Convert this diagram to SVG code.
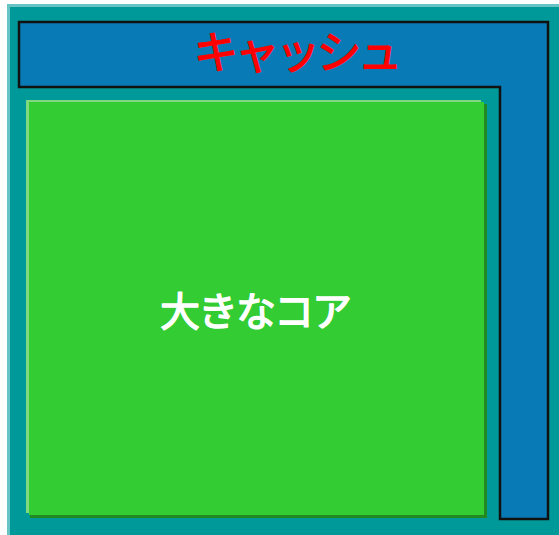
<svg xmlns="http://www.w3.org/2000/svg" width="559" height="535" viewBox="0 0 559 535">
<style>
.cjk{font-family:"Noto Sans CJK JP","Noto Sans CJK SC",sans-serif;text-anchor:middle;font-weight:normal;stroke-linejoin:round;}
</style>
<rect x="0" y="0" width="559" height="535" fill="#ffffff"/>
<g id="background">
<rect x="7" y="4" width="552" height="531" fill="#66c4c4"/>
<rect x="10" y="7" width="549" height="528" fill="#009999"/>
</g>
<g id="cache">
<polygon points="19,22 548,22 548,519 500,519 500,87 19,87" fill="#087bb6" stroke="#111111" stroke-width="2.5"/>
<text class="cjk" x="296" y="69" font-size="45" letter-spacing="-4" fill="#ff0000" stroke="#ff0000" stroke-width="1.2">キャッシュ</text>
</g>
<g id="core">
<rect x="30" y="104" width="457" height="414" fill="#228822"/>
<rect x="26" y="100" width="455" height="413" fill="#80d880"/>
<rect x="29" y="102" width="455" height="413" fill="#33cc33"/>
<text class="cjk" x="255" y="326" font-size="40" letter-spacing="-2" fill="#ffffff" stroke="#ffffff" stroke-width="1.4">大きなコア</text>
</g>
</svg>
